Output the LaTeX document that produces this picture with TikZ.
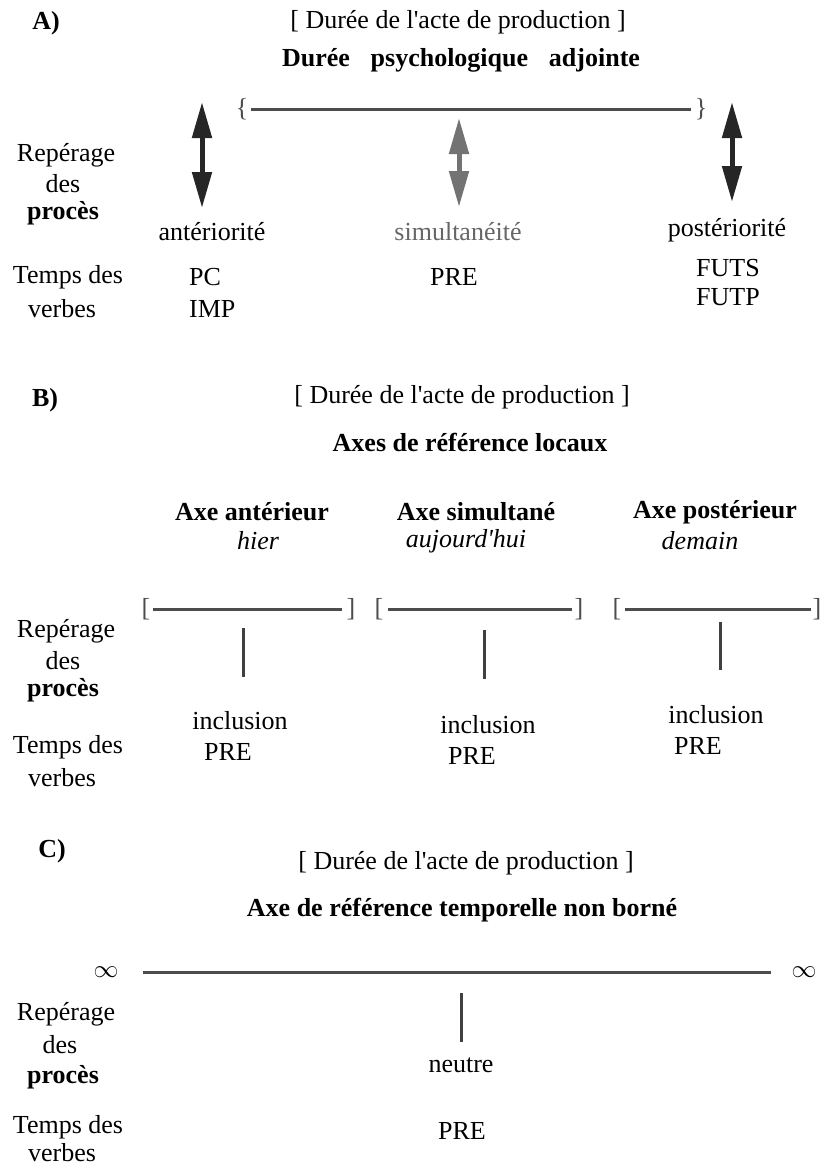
\documentclass[tikz,border=0pt]{standalone}
\usepackage{fontspec}
\setmainfont{Liberation Serif}
\usetikzlibrary{arrows.meta}

\begin{document}
\begin{tikzpicture}[
    x=1pt, y=-1pt,
    every node/.style={font=\fontsize{26}{30}\selectfont, inner sep=0pt},
    title/.style={font=\fontsize{26}{30}\selectfont\bfseries},
    bracket/.style={font=\fontsize{26}{30}\selectfont, text=black!70},
    axis line/.style={line width=3pt, draw=black!70},
    tick line/.style={line width=3pt, draw=black!75},
    double arrow/.style={line width=5pt, {Triangle[length=36pt,width=19pt]}-{Triangle[length=36pt,width=19pt]}},
]
\useasboundingbox (0,0) rectangle (823,1170);

% A
\node[title] (a-label) at (46,23) {A)};
\node (a-acte) at (458,22) {[ Durée de l\textquotesingle acte de production ]};
\node[title] (a-titre) at (461,60) {Durée\hspace{0.55em} psychologique\hspace{0.55em} adjointe};
\node[bracket] (a-open) at (242,109) {\{};
\node[bracket] (a-close) at (701,109) {\}};
\draw[axis line] ([xshift=3pt]a-open.east) -- ([xshift=-4pt]a-close.west);
\coordinate (a-ant-top) at (202,102);
\coordinate (a-ant-bot) at (202,208);
\coordinate (a-sim-top) at (459,118);
\coordinate (a-sim-bot) at (459,207);
\coordinate (a-post-top) at (732,102);
\coordinate (a-post-bot) at (732,202);
\draw[double arrow, draw=black!85, fill=black!85] (a-ant-top) -- (a-ant-bot);
\draw[double arrow, draw=black!55, fill=black!55] (a-sim-top) -- (a-sim-bot);
\draw[double arrow, draw=black!85, fill=black!85] (a-post-top) -- (a-post-bot);
\node (a-rep) at (66,155) {Repérage};
\node (a-des) at (63,184) {des};
\node[title] (a-proc) at (63,213) {procès};
\node (a-ant) at (212,232) {antériorité};
\node[text=black!60] (a-sim) at (458,232) {simultanéité};
\node (a-post) at (727,230) {postériorité};
\node (a-temps) at (68,277) {Temps des};
\node (a-verbes) at (62,309) {verbes};
\node[anchor=west] (a-pc) at (189,277) {PC};
\node[anchor=west] (a-imp) at (189,309) {IMP};
\node (a-pre) at (454,277) {PRE};
\node[anchor=west] (a-futs) at (696,268) {FUTS};
\node[anchor=west] (a-futp) at (696,297) {FUTP};

% B
\node[title] (b-label) at (45,400) {B)};
\node (b-acte) at (462,397) {[ Durée de l\textquotesingle acte de production ]};
\node[title] (b-titre) at (470,442) {Axes de référence locaux};
\node[title] (b-ant-axe) at (252,512) {Axe antérieur};
\node (b-ant-jour) at (258,541) {\itshape hier};
\node[title] (b-sim-axe) at (476,512) {Axe simultané};
\node (b-sim-jour) at (466,541) {\itshape aujourd\textquotesingle hui};
\node[title] (b-post-axe) at (715,512) {Axe postérieur};
\node (b-post-jour) at (700,541) {\itshape demain};
\node[bracket] (b-ant-open) at (146,609) {[};
\node[bracket] (b-ant-close) at (351,609) {]};
\node[bracket] (b-sim-open) at (379,609) {[};
\node[bracket] (b-sim-close) at (579,609) {]};
\node[bracket] (b-post-open) at (617,609) {[};
\node[bracket] (b-post-close) at (817,609) {]};
\draw[axis line] ([xshift=2pt]b-ant-open.east) -- ([xshift=-4pt]b-ant-close.west);
\draw[axis line] ([xshift=4pt]b-sim-open.east) -- ([xshift=-2pt]b-sim-close.west);
\draw[axis line] ([xshift=3pt]b-post-open.east) -- ([xshift=-1pt]b-post-close.west);
\coordinate (b-ant-tick) at (243,628);
\coordinate (b-ant-foot) at (243,677);
\coordinate (b-sim-tick) at (484,630);
\coordinate (b-sim-foot) at (484,679);
\coordinate (b-post-tick) at (720,622);
\coordinate (b-post-foot) at (720,670);
\draw[tick line] (b-ant-tick) -- (b-ant-foot);
\draw[tick line] (b-sim-tick) -- (b-sim-foot);
\draw[tick line] (b-post-tick) -- (b-post-foot);
\node (b-rep) at (66,631) {Repérage};
\node (b-des) at (63,661) {des};
\node[title] (b-proc) at (63,690) {procès};
\node (b-ant-incl) at (240,721) {inclusion};
\node (b-ant-pre) at (228,752) {PRE};
\node (b-sim-incl) at (488,725) {inclusion};
\node (b-sim-pre) at (472,756) {PRE};
\node (b-post-incl) at (716,715) {inclusion};
\node (b-post-pre) at (698,746) {PRE};
\node (b-temps) at (68,747) {Temps des};
\node (b-verbes) at (62,778) {verbes};

% C
\node[title] (c-label) at (52,851) {C)};
\node (c-acte) at (466,863) {[ Durée de l\textquotesingle acte de production ]};
\node[title] (c-titre) at (462,910) {Axe de référence temporelle non borné};
\node (c-inf-left) at (106,972) {$\infty$};
\node (c-inf-right) at (804,972) {$\infty$};
\draw[axis line] ([xshift=24pt]c-inf-left.east) -- ([xshift=-20pt]c-inf-right.west);
\coordinate (c-tick) at (461,993);
\coordinate (c-foot) at (461,1042);
\draw[tick line] (c-tick) -- (c-foot);
\node (c-rep) at (66,1014) {Repérage};
\node (c-des) at (60,1045) {des};
\node[title] (c-proc) at (63,1077) {procès};
\node (c-neutre) at (461,1065) {neutre};
\node (c-temps) at (68,1127) {Temps des};
\node (c-verbes) at (62,1153) {verbes};
\node (c-pre) at (462,1131) {PRE};
\end{tikzpicture}
\end{document}
